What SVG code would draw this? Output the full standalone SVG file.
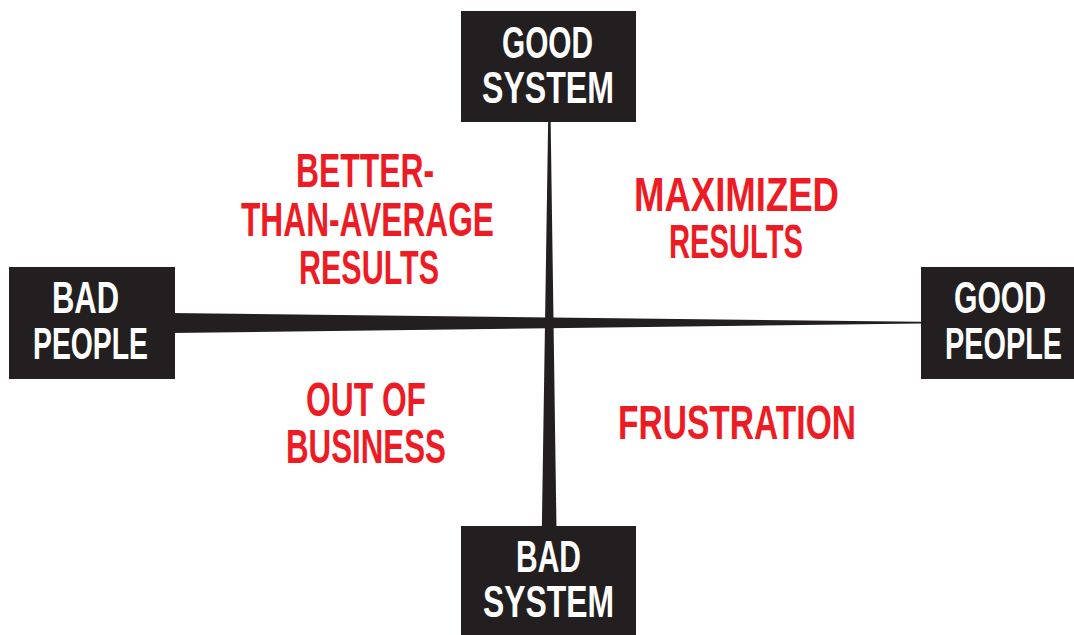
<svg xmlns="http://www.w3.org/2000/svg" width="1074" height="635" viewBox="0 0 1074 635">
  <style>
    .box { fill: #231f20; }
    .axis { fill: #231f20; }
    .lbl { font-family: "Liberation Sans", Arial, sans-serif; font-weight: bold; fill: #ffffff; font-size: 44px; }
    .q { font-family: "Liberation Sans", Arial, sans-serif; font-weight: bold; fill: #ed1c24; font-size: 49px; }
  </style>
  <rect width="1074" height="635" fill="#ffffff"/>
  <g id="connectors">
    <polygon class="axis" points="170,313 921,321.8 921,323.6 170,333"/>
    <polygon class="axis" points="548.2,118 550.6,118 556.5,530 541.8,530"/>
  </g>
  <g id="good-system">
    <rect class="box" x="461" y="11" width="175" height="111"/>
    <text class="lbl" x="502" y="58" textLength="91" lengthAdjust="spacingAndGlyphs">GOOD</text>
    <text class="lbl" x="482" y="103" textLength="132" lengthAdjust="spacingAndGlyphs">SYSTEM</text>
  </g>
  <g id="bad-people">
    <rect class="box" x="9" y="267" width="166" height="112"/>
    <text class="lbl" x="52" y="313" textLength="67" lengthAdjust="spacingAndGlyphs">BAD</text>
    <text class="lbl" x="33" y="359" textLength="115" lengthAdjust="spacingAndGlyphs">PEOPLE</text>
  </g>
  <g id="good-people">
    <rect class="box" x="921" y="267" width="153" height="112"/>
    <text class="lbl" x="954" y="313" textLength="92" lengthAdjust="spacingAndGlyphs">GOOD</text>
    <text class="lbl" x="945" y="359" textLength="117" lengthAdjust="spacingAndGlyphs">PEOPLE</text>
  </g>
  <g id="bad-system">
    <rect class="box" x="461" y="526" width="175" height="109"/>
    <text class="lbl" x="516" y="572" textLength="65" lengthAdjust="spacingAndGlyphs">BAD</text>
    <text class="lbl" x="483" y="617" textLength="131" lengthAdjust="spacingAndGlyphs">SYSTEM</text>
  </g>
  <g id="q-better">
    <text class="q" x="296" y="187" textLength="138" lengthAdjust="spacingAndGlyphs">BETTER-</text>
    <text class="q" x="241" y="236" textLength="253" lengthAdjust="spacingAndGlyphs">THAN-AVERAGE</text>
    <text class="q" x="299" y="284" textLength="140" lengthAdjust="spacingAndGlyphs">RESULTS</text>
  </g>
  <g id="q-maximized">
    <text class="q" x="634" y="211" textLength="205" lengthAdjust="spacingAndGlyphs">MAXIMIZED</text>
    <text class="q" x="669" y="258" textLength="134" lengthAdjust="spacingAndGlyphs">RESULTS</text>
  </g>
  <g id="q-out">
    <text class="q" x="306" y="416" textLength="120" lengthAdjust="spacingAndGlyphs">OUT OF</text>
    <text class="q" x="286" y="463" textLength="160" lengthAdjust="spacingAndGlyphs">BUSINESS</text>
  </g>
  <g id="q-frustration">
    <text class="q" x="618" y="439" textLength="238" lengthAdjust="spacingAndGlyphs">FRUSTRATION</text>
  </g>
</svg>
